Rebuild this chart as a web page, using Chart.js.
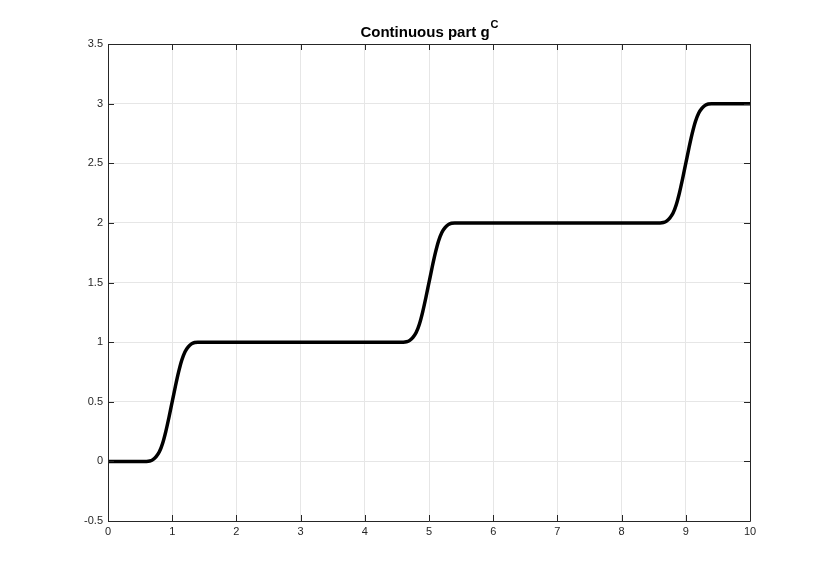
<!DOCTYPE html>
<html>
<head>
<meta charset="utf-8">
<script src="https://cdn.jsdelivr.net/npm/chart.js@4/dist/chart.umd.min.js"></script>
<style>
  body { margin: 0; background: #fff; }
  #wrap { width: 830px; height: 587px; }
</style>
</head>
<body>
<div id="wrap"><canvas id="lineChart" width="830" height="587"></canvas></div>
<script>
// x positions and values of the continuous part g^C
const gX = [
    0, 0.5, 0.6, 0.65, 0.7, 0.75, 0.8, 0.85, 0.9, 0.95, 1.0, 1.05, 1.1, 1.15, 1.2, 1.25, 1.3, 1.35, 1.4, 1.5,
    4.5, 4.6, 4.65, 4.7, 4.75, 4.8, 4.85, 4.9, 4.95, 5.0, 5.05, 5.1, 5.15, 5.2, 5.25, 5.3, 5.35, 5.4, 5.5,
    8.5, 8.6, 8.65, 8.7, 8.75, 8.8, 8.85, 8.9, 8.95, 9.0, 9.05, 9.1, 9.15, 9.2, 9.25, 9.3, 9.35, 9.4, 9.5, 10
];
const gY = [
    0, 0, 0, 0.003, 0.015, 0.04, 0.08, 0.15, 0.25, 0.37, 0.5, 0.63, 0.75, 0.85, 0.92, 0.96, 0.985, 0.997, 1, 1,
    1, 1, 1.003, 1.015, 1.04, 1.08, 1.15, 1.25, 1.37, 1.5, 1.63, 1.75, 1.85, 1.92, 1.96, 1.985, 1.997, 2, 2,
    2, 2, 2.003, 2.015, 2.04, 2.08, 2.15, 2.25, 2.37, 2.5, 2.63, 2.75, 2.85, 2.92, 2.96, 2.985, 2.997, 3, 3, 3
];

const xMin = 0, xMax = 10, xStep = 1;
const yMin = -0.5, yMax = 3.5, yStep = 0.5;

const titleText = 'Continuous part g';
const titleSup = 'C';

const axisColor = '#262626';
const fontFamily = '"Liberation Sans", Arial, Helvetica, sans-serif';

// MATLAB-like box with inward ticks on all four sides
const boxPlugin = {
    id: 'box',
    afterDraw(chart) {
        const ctx = chart.ctx;
        const a = chart.chartArea;
        const xs = chart.scales.x;
        const ys = chart.scales.y;
        const len = 6;
        ctx.save();
        ctx.strokeStyle = axisColor;
        ctx.lineWidth = 1;
        ctx.beginPath();
        ctx.rect(Math.round(a.left) + 0.5, Math.round(a.top) + 0.5,
                 Math.round(a.right - a.left), Math.round(a.bottom - a.top));
        xs.ticks.forEach(t => {
            const px = Math.round(xs.getPixelForValue(t.value)) + 0.5;
            ctx.moveTo(px, a.bottom); ctx.lineTo(px, a.bottom - len);
            ctx.moveTo(px, a.top); ctx.lineTo(px, a.top + len);
        });
        ys.ticks.forEach(t => {
            const py = Math.round(ys.getPixelForValue(t.value)) + 0.5;
            ctx.moveTo(a.left, py); ctx.lineTo(a.left + len, py);
            ctx.moveTo(a.right, py); ctx.lineTo(a.right - len, py);
        });
        ctx.stroke();

        // title with superscript
        ctx.fillStyle = '#000';
        ctx.textBaseline = 'alphabetic';
        ctx.font = 'bold 15px ' + fontFamily;
        const w1 = ctx.measureText(titleText).width;
        ctx.font = 'bold 11px ' + fontFamily;
        const w2 = ctx.measureText(titleSup).width;
        const cx = (a.left + a.right) / 2;
        const start = cx - (w1 + w2) / 2;
        ctx.font = 'bold 15px ' + fontFamily;
        ctx.textAlign = 'left';
        ctx.fillText(titleText, start, 37);
        ctx.font = 'bold 11px ' + fontFamily;
        ctx.fillText(titleSup, start + w1 + 1, 28);
        ctx.restore();
    }
};

const ctx = document.getElementById('lineChart').getContext('2d');
new Chart(ctx, {
    type: 'line',
    data: {
        datasets: [{
            data: gX.map((x, i) => ({ x: x, y: gY[i] })),
            borderColor: '#000',
            borderWidth: 3.5,
            pointRadius: 0,
            cubicInterpolationMode: 'monotone',
            fill: false
        }]
    },
    options: {
        responsive: false,
        animation: false,
        layout: { padding: { top: 44, right: 80, left: 0, bottom: 0 } },
        plugins: {
            legend: { display: false },
            tooltip: { enabled: false },
            title: { display: false }
        },
        scales: {
            x: {
                type: 'linear',
                min: xMin,
                max: xMax,
                afterFit(scale) { scale.height = 66; },
                ticks: {
                    stepSize: xStep,
                    color: axisColor,
                    padding: 4,
                    maxRotation: 0,
                    font: { family: fontFamily, size: 11 },
                    callback: v => String(v)
                },
                grid: { color: '#e6e6e6', drawTicks: false },
                border: { display: false }
            },
            y: {
                type: 'linear',
                min: yMin,
                max: yMax,
                afterFit(scale) { scale.width = 108; },
                ticks: {
                    stepSize: yStep,
                    color: axisColor,
                    padding: 5,
                    font: { family: fontFamily, size: 11 },
                    callback: v => String(v)
                },
                grid: { color: '#e6e6e6', drawTicks: false },
                border: { display: false }
            }
        }
    },
    plugins: [boxPlugin]
});
</script>
</body>
</html>
